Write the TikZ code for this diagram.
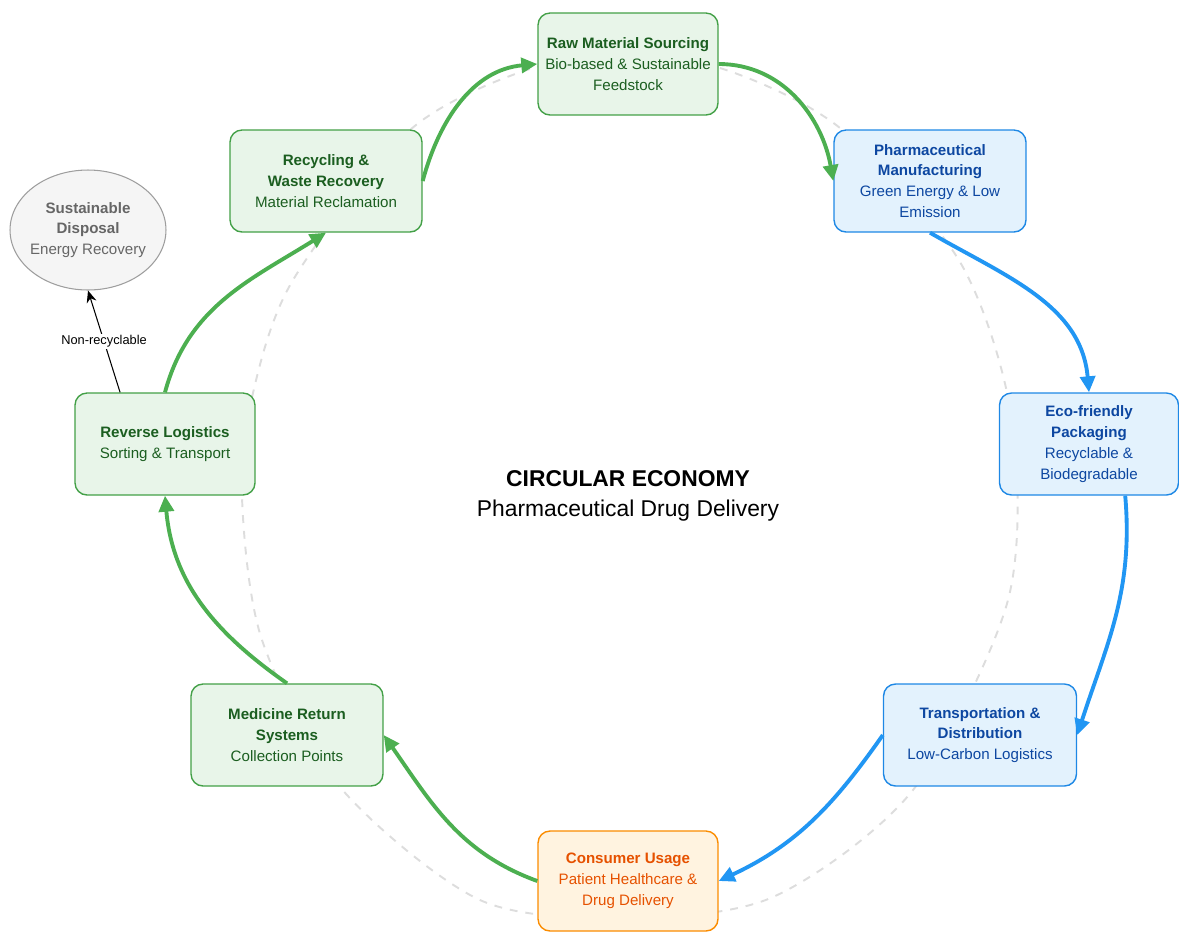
\documentclass[tikz,border=0pt]{standalone}
\usepackage{fontspec}
\setmainfont{Liberation Sans}
\usetikzlibrary{arrows.meta,shapes.geometric}
\definecolor{grnfill}{HTML}{E8F5E9}
\definecolor{grnline}{HTML}{43A047}
\definecolor{grntext}{HTML}{1B5E20}
\definecolor{grnflow}{HTML}{4CAF50}
\definecolor{blufill}{HTML}{E3F2FD}
\definecolor{bluline}{HTML}{1E88E5}
\definecolor{blutext}{HTML}{0D47A1}
\definecolor{bluflow}{HTML}{2196F3}
\definecolor{orgfill}{HTML}{FFF3E0}
\definecolor{orgline}{HTML}{FB8C00}
\definecolor{orgtext}{HTML}{E65100}
\definecolor{gryfill}{HTML}{F5F5F5}
\definecolor{gryline}{HTML}{9E9E9E}
\definecolor{grytext}{HTML}{666666}
\definecolor{ringgray}{HTML}{DDDDDD}
\tikzset{stage/.style={rectangle, rounded corners=0.24cm, line width=0.8pt, align=center,
                       minimum height=2.04cm, inner sep=2pt, font=\fontsize{8.6}{11.9}\selectfont},
         greenstage/.style={stage, draw=grnline, fill=grnfill, text=grntext},
         bluestage/.style={stage, draw=bluline, fill=blufill, text=blutext},
         orangestage/.style={stage, draw=orgline, fill=orgfill, text=orgtext},
         flow/.style={line width=2.2pt, -{Triangle[length=0.32cm,width=0.3cm]}},
         greenflow/.style={flow, grnflow},
         blueflow/.style={flow, bluflow}}

\begin{document}
\begin{tikzpicture}[x=0.02cm,y=0.02cm]
  \useasboundingbox (0,0) rectangle (1179,-931);
  \draw[ringgray, line width=1.1pt, dash pattern=on 4.5pt off 4.5pt]
     plot[smooth cycle] coordinates {(627,-62) (720,-68) (840,-128) (960,-262) (1012,-420)
       (1008,-600) (913,-790) (773,-897) (627,-918) (480,-900) (340,-787) (262,-640)
       (242,-497) (253,-393) (293,-280) (410,-130) (533,-68)};

  \node[greenstage, minimum width=3.6cm]  (raw)  at (628,-64)  {\textbf{Raw Material Sourcing}\\Bio-based \& Sustainable\\Feedstock};
  \node[bluestage, minimum width=3.84cm]  (mfg)  at (930,-181) {\textbf{Pharmaceutical}\\\textbf{Manufacturing}\\Green Energy \& Low\\Emission};
  \node[bluestage, minimum width=3.58cm]  (pack) at (1089,-444) {\textbf{Eco-friendly}\\\textbf{Packaging}\\Recyclable \&\\Biodegradable};
  \node[bluestage, minimum width=3.86cm]  (dist) at (980,-735) {\textbf{Transportation \&}\\\textbf{Distribution}\\Low-Carbon Logistics};
  \node[orangestage, minimum width=3.6cm, minimum height=2cm] (use) at (628,-881) {\textbf{Consumer Usage}\\Patient Healthcare \&\\Drug Delivery};
  \node[greenstage, minimum width=3.84cm] (ret)  at (287,-735) {\textbf{Medicine Return}\\\textbf{Systems}\\Collection Points};
  \node[greenstage, minimum width=3.6cm]  (rev)  at (165,-444) {\textbf{Reverse Logistics}\\Sorting \& Transport};
  \node[greenstage, minimum width=3.84cm] (rec)  at (326,-181) {\textbf{Recycling \&}\\\textbf{Waste Recovery}\\Material Reclamation};
  \node[ellipse, draw=gryline, fill=gryfill, line width=0.6pt, minimum width=3.12cm, minimum height=2.4cm,
        inner sep=-6pt, align=center, text=grytext, font=\fontsize{8.6}{11.9}\selectfont]
        (disp) at (88,-230) {\textbf{Sustainable}\\\textbf{Disposal}\\Energy Recovery};

  \node[align=center, font=\fontsize{13}{17}\selectfont] (title) at (628,-496)
        {\textbf{CIRCULAR ECONOMY}\\Pharmaceutical Drug Delivery};

  \draw[greenflow] (rec.east) to[out=75,in=185] (raw.west);
  \draw[greenflow] (raw.east) to[out=0,in=100] (mfg.west);
  \draw[blueflow] (mfg.south) to[out=-30,in=95] (pack.north);
  \draw[blueflow] (pack.305) to[out=-85,in=72] (dist.east);
  \draw[blueflow] (dist.west) to[out=235,in=25] (use.east);
  \draw[greenflow] (use.west) to[out=160,in=-55] (ret.east);
  \draw[greenflow] (ret.north) to[out=145,in=-85] (rev.south);
  \draw[greenflow] (rev.north) to[out=75,in=212] (rec.south);
  \draw[-{Stealth[length=0.24cm,width=0.2cm]}, line width=0.6pt] (rev.131) -- (disp.south)
        node[midway, fill=white, inner sep=1pt, font=\fontsize{7.3}{9}\selectfont] (nr) {Non-recyclable};
\end{tikzpicture}
\end{document}
